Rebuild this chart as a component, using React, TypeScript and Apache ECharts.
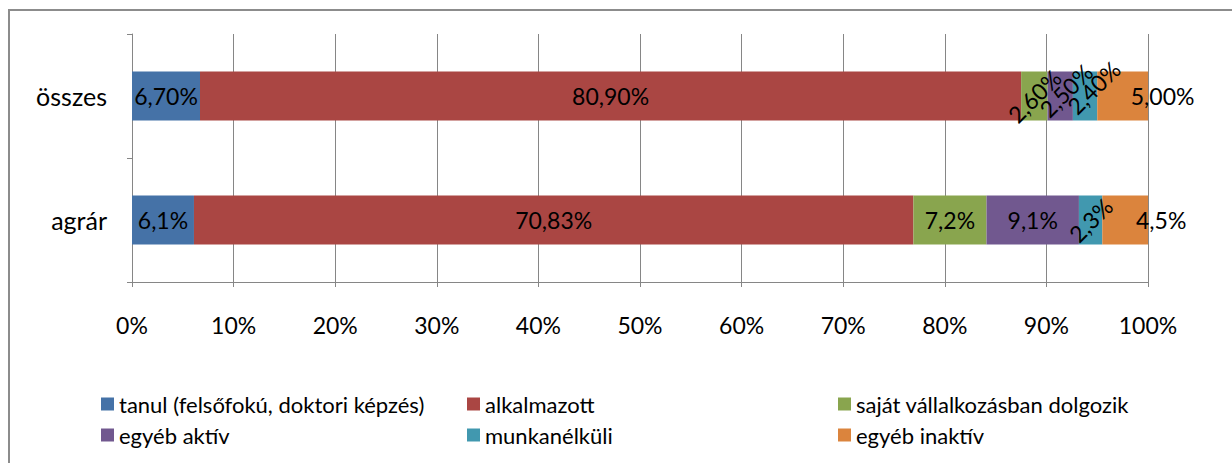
import React, { useEffect, useRef } from "react";
import * as echarts from "echarts";

const categories = ["összes", "agrár"];
const seriesNames = [
  "tanul (felsőfokú, doktori képzés)",
  "alkalmazott",
  "saját vállalkozásban dolgozik",
  "egyéb aktív",
  "munkanélküli",
  "egyéb inaktív",
];
const colors = ["#4572A7", "#AA4643", "#89A54E", "#71588F", "#4198AF", "#DB843D"];
// values per category, in series order (percent)
const osszesValues = [6.7, 80.9, 2.6, 2.5, 2.4, 5.0];
const agrarValues = [6.1, 70.83, 7.2, 9.1, 2.3, 4.5];
const xTicks = [0, 10, 20, 30, 40, 50, 60, 70, 80, 90, 100];

const FONT = "Lato, 'Open Sans', sans-serif";

function fmtOsszes(v: number) {
  return v.toFixed(2).replace(".", ",") + "%";
}
function fmtAgrar(v: number) {
  return String(v).replace(".", ",") + "%";
}

export default function App() {
  const ref = useRef<HTMLDivElement>(null);
  useEffect(() => {
    if (!ref.current) return;
    const chart = echarts.init(ref.current, undefined, { renderer: "svg" });
    const totO = osszesValues.reduce((a, b) => a + b, 0);
    const totA = agrarValues.reduce((a, b) => a + b, 0);

    const rotO = [false, false, true, true, true, false];
    const rotA = [false, false, false, false, true, false];
    const offO: number[][] = [[0, 0], [0, 0], [0, 0], [8, 0], [12, 0], [40, 0]];
    const offA: number[][] = [[0, 0], [0, 0], [0, 0], [0, 0], [0, 0], [36, 0]];

    const series = seriesNames.map((name, i) => ({
      name,
      type: "bar",
      stack: "total",
      barWidth: 49,
      itemStyle: { color: colors[i] },
      label: {
        show: true,
        position: "inside",
        color: "#000",
        fontFamily: FONT,
        fontSize: 23,
      },
      data: [
        {
          value: (osszesValues[i] / totO) * 100,
          label: {
            formatter: fmtOsszes(osszesValues[i]),
            rotate: rotO[i] ? 45 : 0,
            offset: offO[i],
          },
        },
        {
          value: (agrarValues[i] / totA) * 100,
          label: {
            formatter: fmtAgrar(agrarValues[i]),
            rotate: rotA[i] ? 45 : 0,
            offset: offA[i],
          },
        },
      ],
    }));

    const legendCommon = {
      orient: "vertical",
      top: 393,
      icon: "rect",
      itemWidth: 13,
      itemHeight: 13,
      itemGap: 9,
      padding: 0,
      textStyle: { fontFamily: FONT, fontSize: 22, color: "#000", lineHeight: 22 },
    };

    chart.setOption({
      animation: false,
      backgroundColor: "#fff",
      color: colors,
      grid: { left: 132, right: 84, top: 34, height: 248 },
      legend: [
        { ...legendCommon, left: 101, data: [seriesNames[0], seriesNames[3]] },
        { ...legendCommon, left: 467, data: [seriesNames[1], seriesNames[4]] },
        { ...legendCommon, left: 838, data: [seriesNames[2], seriesNames[5]] },
      ],
      xAxis: {
        type: "value",
        min: xTicks[0],
        max: xTicks[xTicks.length - 1],
        interval: xTicks[1] - xTicks[0],
        axisLine: { show: true, lineStyle: { color: "#868686", width: 1 } },
        axisTick: { show: true, length: 5, lineStyle: { color: "#868686" } },
        splitLine: { show: true, lineStyle: { color: "#868686", width: 1 } },
        axisLabel: {
          formatter: "{value}%",
          color: "#000",
          fontFamily: FONT,
          fontSize: 23,
          margin: 31,
        },
      },
      yAxis: {
        type: "category",
        inverse: true,
        data: categories,
        axisLine: { show: true, lineStyle: { color: "#868686", width: 1 } },
        axisTick: { show: true, length: 5, lineStyle: { color: "#868686" } },
        axisLabel: { color: "#000", fontFamily: FONT, fontSize: 25, margin: 25 },
      },
      graphic: [
        {
          type: "rect",
          shape: { x: 9, y: 10, width: 1400, height: 600 },
          style: { fill: "none", stroke: "#8c8c8c", lineWidth: 2 },
          silent: true,
        },
      ],
      series,
    });
    return () => chart.dispose();
  }, []);
  return (
    <div
      ref={ref}
      style={{ position: "fixed", left: 0, top: 0, width: 1232, height: 463 }}
    />
  );
}
